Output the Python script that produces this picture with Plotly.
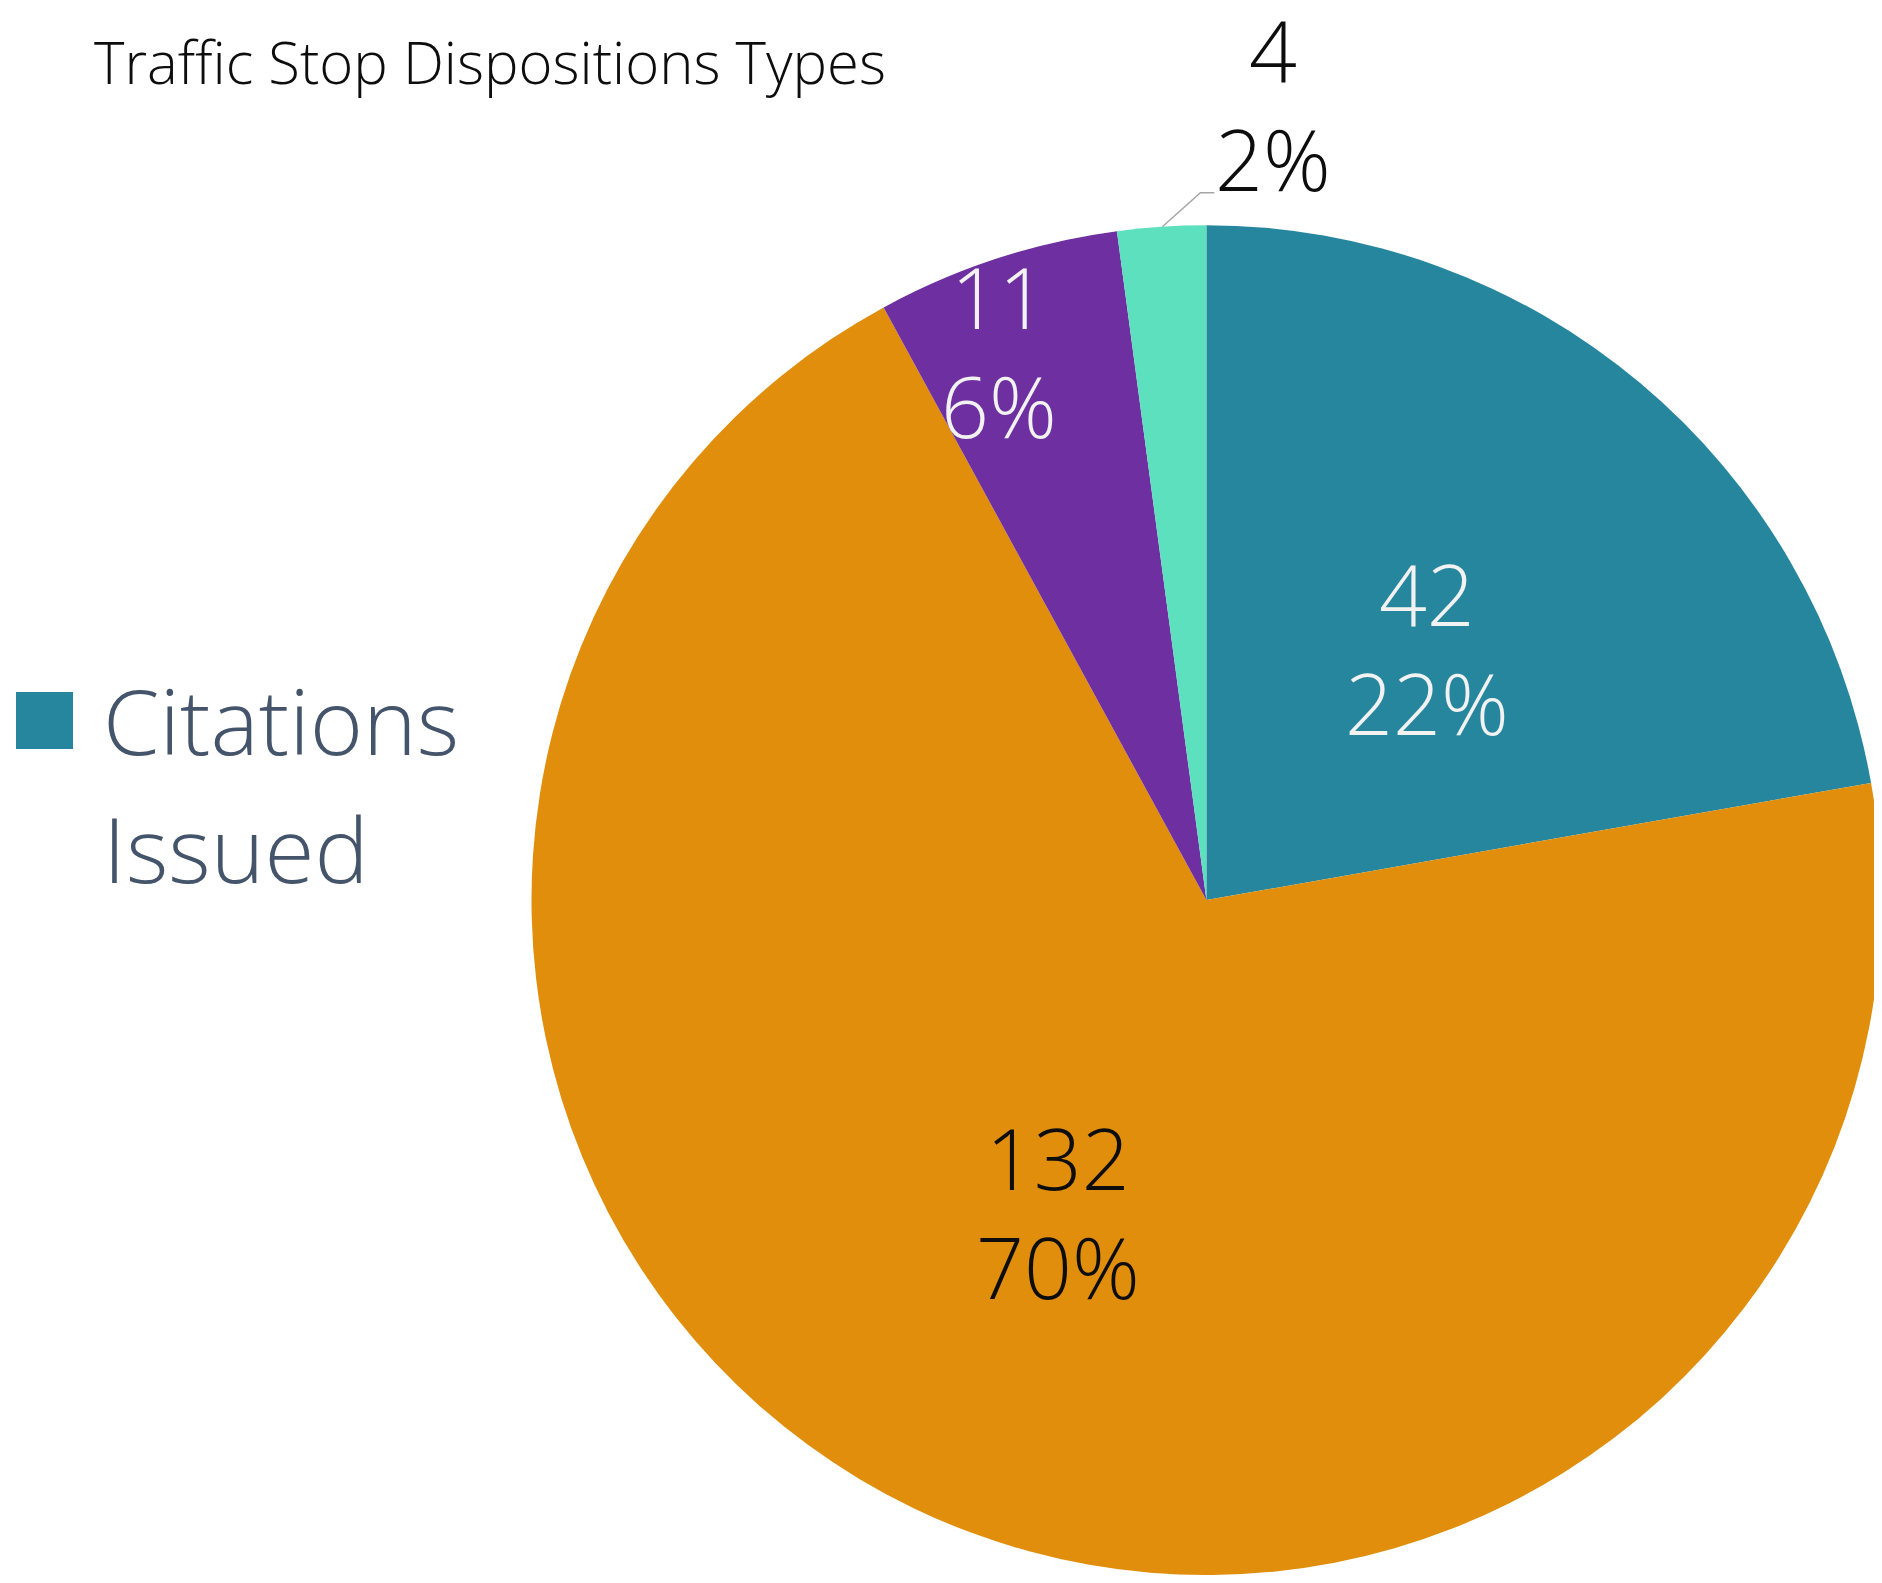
import math
import plotly.graph_objects as go

# ---- data ----
categories = ["Citations Issued", "Warnings Issued", "Arrests", "Other"]
values = [42, 132, 11, 4]
colors = ["#26869E", "#E08E0B", "#6E2FA0", "#5CE0BE"]
label_colors = ["#F2F2F2", "#0D0D0D", "#F2F2F2", "#0D0D0D"]
title_text = "Traffic Stop Dispositions Types"
legend_items = ["Citations Issued"]

# ---- layout geometry (pixels in the photographed page) ----
W, H = 1882, 1583
OFF = 8                          # page body margin offset
FW, FH = W - OFF, H - 2 * OFF    # figure size so the page does not overflow
CX, CY, R = 1207.3, 901.7, 676.5
FONT = "Open Sans"
label_radius = [0.496, 0.509, 0.87, None]   # None -> outside with leader line
label_nudge_deg = [1.0, 0.0, -2.6, 0.0]

def px(x):
    return (x - OFF) / FW

def py(y):
    return 1 - (y - OFF) / FH

total = sum(values)
fig = go.Figure()
fig.add_trace(go.Pie(
    labels=categories, values=values, sort=False, direction="clockwise",
    rotation=0, textinfo="none", hoverinfo="label+value+percent",
    marker=dict(colors=colors, line=dict(width=0)),
    domain=dict(x=[max(0.0, px(CX - R)), min(1.0, px(CX + R))],
                y=[max(0.0, py(CY + R)), min(1.0, py(CY - R))]),
    showlegend=False,
))

annotations = []
shapes = []
cum = 0
for i, v in enumerate(values):
    mid = (cum + v / 2) / total * 360
    cum += v
    text = f"{v}<br>{round(100 * v / total)}%"
    if label_radius[i] is not None:
        a = math.radians(mid + label_nudge_deg[i])
        r = label_radius[i] * R
        x = CX + r * math.sin(a)
        y = CY - r * math.cos(a)
        annotations.append(dict(x=px(x), y=py(y), xref="paper", yref="paper",
                                text=text, showarrow=False, xanchor="center", yanchor="middle",
                                font=dict(family=FONT, size=84, color=label_colors[i], weight=300)))
    else:
        a = math.radians(mid)
        ex = CX + R * math.sin(a)
        ey = CY - R * math.cos(a)
        bx, by = ex + 38, ey - 34
        tx, ty = bx + 14, by
        shapes.append(dict(type="path", xref="paper", yref="paper",
                           path=f"M {px(ex)},{py(ey)} L {px(bx)},{py(by)} L {px(tx)},{py(ty)}",
                           line=dict(color="#A6A6A6", width=1.5)))
        annotations.append(dict(x=px(tx + 59), y=py(ty - 89), xref="paper", yref="paper",
                                text=text, showarrow=False, xanchor="center", yanchor="middle",
                                font=dict(family=FONT, size=84, color=label_colors[i], weight=300)))

# title
annotations.append(dict(x=px(92), y=py(20), xref="paper", yref="paper", text=title_text,
                        showarrow=False, xanchor="left", yanchor="top",
                        font=dict(family=FONT, size=58, color="#0D0D0D", weight=300)))

# custom legend (only first entry visible, as in the reference)
shapes.append(dict(type="rect", xref="paper", yref="paper",
                   x0=px(16), x1=px(73), y0=py(749), y1=py(692),
                   fillcolor=colors[0], line=dict(width=0)))
legend_lines = legend_items[0].split(" ")
for j, line in enumerate(legend_lines):
    annotations.append(dict(x=px(101), y=py(720 + 128 * j), xref="paper", yref="paper",
                            text=line, showarrow=False,
                            xanchor="left", yanchor="middle", align="left",
                            font=dict(family=FONT, size=91, color="#44546A", weight=300)))

fig.update_layout(width=FW, height=FH, margin=dict(l=0, r=0, t=0, b=0),
                  paper_bgcolor="white", plot_bgcolor="white",
                  annotations=annotations, shapes=shapes)
fig.write_html("out.html")
